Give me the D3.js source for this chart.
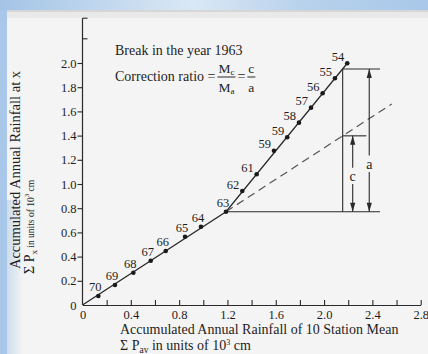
<!DOCTYPE html>
<html>
<head>
<meta charset="utf-8">
<script src="https://cdn.jsdelivr.net/npm/d3@7"></script>
<style>
  body { margin: 0; background: #f4f4f4; }
  svg { display: block; }
  text { font-family: "Liberation Serif", "Times New Roman", serif; fill: #1e1e1e; }
</style>
</head>
<body>
<svg id="chart" width="428" height="354"></svg>
<script>
// double mass curve, break in 1963
const years = ["70", "69", "68", "67", "66", "65", "64", "63", "62", "61", "59", "59", "58", "57", "56", "55", "54"];
const stationMean = [0.131, 0.269, 0.421, 0.565, 0.689, 0.849, 0.981, 1.188, 1.323, 1.442, 1.585, 1.695, 1.792, 1.892, 1.988, 2.090, 2.192];
const stationX = [0.074, 0.165, 0.267, 0.366, 0.446, 0.564, 0.647, 0.771, 0.942, 1.080, 1.275, 1.386, 1.507, 1.631, 1.750, 1.874, 1.998];
const breakIndex = 7;

const xTicks = [0.2, 0.4, 0.6, 0.8, 1.0, 1.2, 1.4, 1.6, 1.8, 2.0, 2.2, 2.4, 2.6, 2.8];
const xLabels = [0, 0.4, 0.8, 1.2, 1.6, 2.0, 2.4, 2.8];
const yTicks = [0, 0.2, 0.4, 0.6, 0.8, 1.0, 1.2, 1.4, 1.6, 1.8, 2.0];
const yExtraTicks = [2.2, 2.37];

// construction of the correction ratio
const dashEndX = 2.56;
const vertX = 2.154;
const topY = 1.951;
const midY = 1.398;
const baseEndX = 2.463;
const midEndX = 2.35;
const arrowAX = 2.374, labelAY = 1.16;
const arrowCX = 2.237, labelCY = 1.06;

const svg = d3.select("#chart");

// slide background
const defs = svg.append("defs");
const gr = defs.append("linearGradient").attr("id", "sky").attr("x1", 0).attr("x2", 1).attr("y1", 0).attr("y2", 0);
gr.append("stop").attr("offset", "0%").attr("stop-color", "#a4c4e6");
gr.append("stop").attr("offset", "45%").attr("stop-color", "#dae8f5");
gr.append("stop").attr("offset", "70%").attr("stop-color", "#b9d2ec");
gr.append("stop").attr("offset", "100%").attr("stop-color", "#a8c8e9");
const lg = defs.append("linearGradient").attr("id", "leftfade").attr("x1", 0).attr("x2", 1).attr("y1", 0).attr("y2", 0);
lg.append("stop").attr("offset", "0%").attr("stop-color", "#b4cde9").attr("stop-opacity", 0.6);
lg.append("stop").attr("offset", "100%").attr("stop-color", "#b4cde9").attr("stop-opacity", 0);

svg.append("rect").attr("width", 428).attr("height", 354).attr("fill", "url(#sky)");
svg.append("rect").attr("x", 0).attr("y", 10).attr("width", 8).attr("height", 344).attr("fill", "#a9c7e8");
svg.append("rect").attr("x", 7).attr("y", 10).attr("width", 421).attr("height", 344).attr("fill", "#f4f4f4");
svg.append("rect").attr("x", 7).attr("y", 10).attr("width", 421).attr("height", 2).attr("fill", "#d6d6d6");
svg.append("rect").attr("x", 7).attr("y", 12).attr("width", 421).attr("height", 6).attr("fill", "#e9e9e9");
svg.append("rect").attr("x", 7).attr("y", 200).attr("width", 16).attr("height", 154).attr("fill", "url(#leftfade)");

const x = d3.scaleLinear().domain([0, 2.8]).range([82.5, 420.7]);
const y = d3.scaleLinear().domain([0, 2.0]).range([305, 63]);
const fmt = d => d === 0 ? "0" : d.toFixed(1);
const ink = "#2a2a2a";

// x axis
const xAxis = svg.append("g")
  .attr("transform", "translate(0," + y(0) + ")")
  .call(d3.axisBottom(x).tickValues([0].concat(xTicks)).tickSize(-5).tickSizeOuter(0).tickPadding(5)
    .tickFormat(d => xLabels.includes(d) ? fmt(d) : ""));
xAxis.selectAll("text").attr("font-size", 12.5).attr("font-family", "Liberation Serif").attr("fill", "#1e1e1e");
xAxis.selectAll("line, path").attr("stroke", ink).attr("stroke-width", 1.1);
xAxis.selectAll(".tick").filter(d => d === 0).select("line").remove();

// y axis
const yAxis = svg.append("g")
  .attr("transform", "translate(" + x(0) + ",0)")
  .call(d3.axisLeft(y).tickValues(yTicks).tickSize(5).tickSizeOuter(0).tickPadding(1).tickFormat(fmt));
yAxis.select(".domain").remove();
yAxis.selectAll("text").attr("font-size", 12.5).attr("font-family", "Liberation Serif").attr("fill", "#1e1e1e");
yAxis.selectAll("line").attr("stroke", ink).attr("stroke-width", 1.1);
yAxis.selectAll(".tick").filter(d => d === 0).select("line").remove();
yAxis.append("line").attr("x1", 0).attr("x2", 0).attr("y1", y(0)).attr("y2", y(d3.max(yExtraTicks)))
  .attr("stroke", ink).attr("stroke-width", 1.2);
yAxis.selectAll(".xt").data(yExtraTicks).join("line")
  .attr("x1", 0).attr("x2", 5).attr("y1", d => y(d)).attr("y2", d => y(d))
  .attr("stroke", ink).attr("stroke-width", 1.1);

// axis titles
const yt = svg.append("g").attr("transform", "translate(20,170) rotate(-90)");
yt.append("text").attr("text-anchor", "middle").attr("font-size", 14.5)
  .text("Accumulated Annual Rainfall at x");
const yt2 = svg.append("text").attr("transform", "translate(34,274) rotate(-90)").attr("font-size", 14);
yt2.append("tspan").text("Σ P");
yt2.append("tspan").attr("font-size", 9).attr("dy", 3).text("x");
yt2.append("tspan").attr("font-size", 9.5).attr("dy", -3).text("   in units of 10");
yt2.append("tspan").attr("font-size", 7).attr("dy", -5).text("3");
yt2.append("tspan").attr("font-size", 9.5).attr("dy", 5).text(" cm");

svg.append("text").attr("x", 120).attr("y", 334).attr("font-size", 14)
  .text("Accumulated Annual Rainfall of 10 Station Mean");
const xt2 = svg.append("text").attr("x", 120).attr("y", 349.5).attr("font-size", 14);
xt2.append("tspan").text("Σ P");
xt2.append("tspan").attr("font-size", 9.5).attr("dy", 3).text("av");
xt2.append("tspan").attr("dy", -3).text(" in units of 10");
xt2.append("tspan").attr("font-size", 8).attr("dy", -5).text("3");
xt2.append("tspan").attr("dy", 5).text(" cm");

// curve: lower segment, upper segment and dashed extension
const pts = stationMean.map((v, i) => [v, stationX[i]]);
const bp = pts[breakIndex];
const last = pts[pts.length - 1];
const line = d3.line().x(d => x(d[0])).y(d => y(d[1]));
const slope = bp[1] / bp[0];

svg.append("path").attr("d", line([[0, 0], bp, last]))
  .attr("fill", "none").attr("stroke", ink).attr("stroke-width", 1.3);
svg.append("path").attr("d", line([bp, [dashEndX, slope * dashEndX]]))
  .attr("fill", "none").attr("stroke", "#555").attr("stroke-width", 1.2).attr("stroke-dasharray", "8,5");

// construction lines
const cons = [
  [[bp[0], bp[1]], [baseEndX, bp[1]]],
  [[vertX, bp[1]], [vertX, topY]],
  [[vertX, topY], [baseEndX, topY]],
  [[vertX, midY], [midEndX, midY]],
  [[arrowAX, topY], [arrowAX, labelAY + 0.075]],
  [[arrowAX, labelAY - 0.06], [arrowAX, bp[1]]],
  [[arrowCX, midY], [arrowCX, labelCY + 0.075]],
  [[arrowCX, labelCY - 0.06], [arrowCX, bp[1]]]
];
svg.selectAll(".cons").data(cons).join("path")
  .attr("d", d => line(d)).attr("fill", "none").attr("stroke", ink).attr("stroke-width", 1.1);

// arrowheads
const heads = [
  [arrowAX, topY, -1], [arrowAX, bp[1], 1],
  [arrowCX, midY, -1], [arrowCX, bp[1], 1]
];
svg.selectAll(".head").data(heads).join("path")
  .attr("d", d => {
    const hx = x(d[0]), hy = y(d[1]);
    return "M" + hx + "," + hy + "L" + (hx - 2.6) + "," + (hy - d[2] * 9) + "L" + (hx + 2.6) + "," + (hy - d[2] * 9) + "Z";
  })
  .attr("fill", ink);

svg.append("text").attr("x", x(arrowAX)).attr("y", y(labelAY) + 4.5).attr("text-anchor", "middle")
  .attr("font-size", 14).text("a");
svg.append("text").attr("x", x(arrowCX)).attr("y", y(labelCY) + 4.5).attr("text-anchor", "middle")
  .attr("font-size", 14).text("c");

// points and year labels
svg.selectAll(".pt").data(pts).join("circle")
  .attr("cx", d => x(d[0])).attr("cy", d => y(d[1])).attr("r", 2.3).attr("fill", "#1a1a1a");
svg.selectAll(".yr").data(pts).join("text")
  .attr("x", d => x(d[0]) - 3)
  .attr("y", (d, i) => y(d[1]) + (i <= breakIndex ? -5 : -2.5))
  .attr("text-anchor", (d, i) => i <= breakIndex ? "middle" : "end")
  .attr("font-size", 12.5)
  .text((d, i) => years[i]);

// annotation
svg.append("text").attr("x", 115).attr("y", 55).attr("font-size", 14).text("Break in the year 1963");
const t1 = svg.append("text").attr("x", 115).attr("y", 81).attr("font-size", 14).text("Correction ratio =");
let cx = 115 + t1.node().getComputedTextLength() + 3;

function fraction(x0, num, numSub, den, denSub) {
  const n = svg.append("text").attr("x", x0).attr("y", 73).attr("font-size", 13.5);
  n.append("tspan").text(num);
  if (numSub) n.append("tspan").attr("font-size", 9).attr("dy", 2).text(numSub);
  const dd = svg.append("text").attr("x", x0).attr("y", 92).attr("font-size", 13.5);
  dd.append("tspan").text(den);
  if (denSub) dd.append("tspan").attr("font-size", 9).attr("dy", 2).text(denSub);
  const w = Math.max(n.node().getComputedTextLength(), dd.node().getComputedTextLength());
  n.attr("x", x0 + (w - n.node().getComputedTextLength()) / 2);
  dd.attr("x", x0 + (w - dd.node().getComputedTextLength()) / 2);
  svg.append("line").attr("x1", x0 - 1).attr("x2", x0 + w + 1).attr("y1", 77).attr("y2", 77)
    .attr("stroke", ink).attr("stroke-width", 1);
  return x0 + w;
}
cx = fraction(cx, "M", "c", "M", "a") + 3;
const eq = svg.append("text").attr("x", cx).attr("y", 81).attr("font-size", 14).text("=");
cx += eq.node().getComputedTextLength() + 3;
fraction(cx, "c", null, "a", null);
</script>
</body>
</html>
